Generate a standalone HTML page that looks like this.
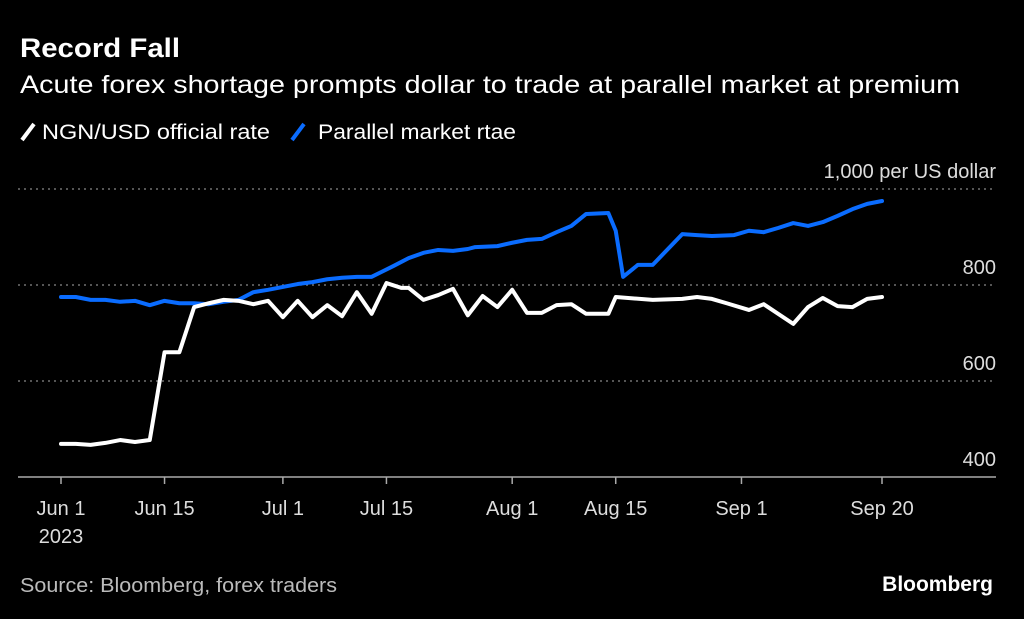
<!DOCTYPE html>
<html><head><meta charset="utf-8"><style>
body{margin:0;background:#000;width:1024px;height:619px;overflow:hidden;font-family:"Liberation Sans",sans-serif;color:#fff}
</style></head><body>
<svg width="1024" height="619" style="position:absolute;left:0;top:0">
<text x="20" y="57" font-size="27" font-weight="bold" fill="#fff" textLength="160" lengthAdjust="spacingAndGlyphs">Record Fall</text>
<text x="20" y="93" font-size="25" fill="#fff" textLength="940" lengthAdjust="spacingAndGlyphs">Acute forex shortage prompts dollar to trade at parallel market at premium</text>
<g>
<line x1="22" y1="140" x2="34" y2="124" stroke="#fff" stroke-width="4"/>
<text x="42" y="139" font-size="21" fill="#fff" textLength="228" lengthAdjust="spacingAndGlyphs">NGN/USD official rate</text>
<line x1="292" y1="140" x2="304" y2="124" stroke="#0a6cff" stroke-width="4"/>
<text x="318" y="139" font-size="21" fill="#fff" textLength="198" lengthAdjust="spacingAndGlyphs">Parallel market rtae</text>
</g>
<g id="axes"></g>
<g id="series"></g>
<text x="20" y="592" font-size="20" fill="#bbb" textLength="317" lengthAdjust="spacingAndGlyphs">Source: Bloomberg, forex traders</text>
<text x="993" y="591" font-size="21" font-weight="bold" fill="#fff" text-anchor="end">Bloomberg</text>
</svg>
<script>
const yTicks=[400,600,800,1000];
const yTickLabels=["400","600","800","1,000 per US dollar"];
const xTickDays=[0,14,30,44,61,75,92,111];
const xTickLabels=["Jun 1","Jun 15","Jul 1","Jul 15","Aug 1","Aug 15","Sep 1","Sep 20"];
const officialDays=[0,2,4,6,8,10,12,14,16,18,20,22,24,26,28,30,32,34,36,38,40,42,44,46,47,49,51,53,55,57,59,61,63,65,67,69,71,74,75,80,84,86,88,90,93,95,99,101,103,105,107,109,111];
const officialValues=[469,469,467,471,477,473,477,660,660,754,762,769,767,760,767,733,767,733,758,735,785,740,804,794,794,769,779,792,737,777,754,790,742,742,758,760,740,740,775,769,771,775,771,762,748,760,719,754,773,756,754,771,775];
const parallelDays=[0,2,4,6,8,10,12,14,16,18,20,22,24,26,28,30,32,34,36,38,40,42,45,47,49,51,53,55,56,59,61,63,65,67,69,71,74,75,76,78,80,84,86,88,91,93,95,97,99,101,103,105,107,109,111];
const parallelValues=[775,775,769,769,765,767,758,767,762,762,760,765,769,785,790,796,802,806,812,815,817,817,840,856,867,873,871,875,879,881,888,894,896,910,923,948,950,913,817,842,842,906,904,902,904,913,910,919,929,923,931,944,958,969,975];
const X=d=>61+d*(821/111);
const Y=v=>189+(1000-v)*0.48;
const NS="http://www.w3.org/2000/svg";
const ax=document.getElementById('axes'),sr=document.getElementById('series');
function mk(tag,attrs,parent){const e=document.createElementNS(NS,tag);for(const k in attrs)e.setAttribute(k,attrs[k]);parent.appendChild(e);return e;}
yTicks.forEach((v,i)=>{
 if(v>400){const g=mk('line',{x1:18,x2:996,y1:Y(v),y2:Y(v),stroke:'#888','stroke-width':1.2,'stroke-dasharray':'2 4'},ax);
 
 }
 const t=mk('text',{x:996,y:Y(v)-11,'font-size':20,fill:'#ddd','text-anchor':'end'},ax);
 t.textContent=yTickLabels[i];
 
 
});
const base=mk('line',{x1:18,x2:996,y1:Y(400),y2:Y(400),stroke:'#aaa','stroke-width':1.5},ax);


xTickDays.forEach((d,i)=>{
 const tk=mk('line',{x1:X(d),x2:X(d),y1:Y(400),y2:Y(400)+7,stroke:'#aaa','stroke-width':1.5},ax);
 
 
 const t=mk('text',{x:X(d),y:515,'font-size':20,fill:'#ddd','text-anchor':'middle'},ax);
 t.textContent=xTickLabels[i];
 
 
});
const yr=mk('text',{x:X(0),y:543,'font-size':20,fill:'#ddd','text-anchor':'middle'},ax);yr.textContent='2023';


function line(days,vals,color,name){
 const p=mk('polyline',{points:days.map((d,i)=>X(d)+','+Y(vals[i])).join(' '),fill:'none',stroke:color,'stroke-width':4,'stroke-linejoin':'round','stroke-linecap':'round'},sr);
 
 
}
line(parallelDays,parallelValues,'#0a6cff','parallel-market-line');
line(officialDays,officialValues,'#ffffff','official-rate-line');
</script>
</body></html>
